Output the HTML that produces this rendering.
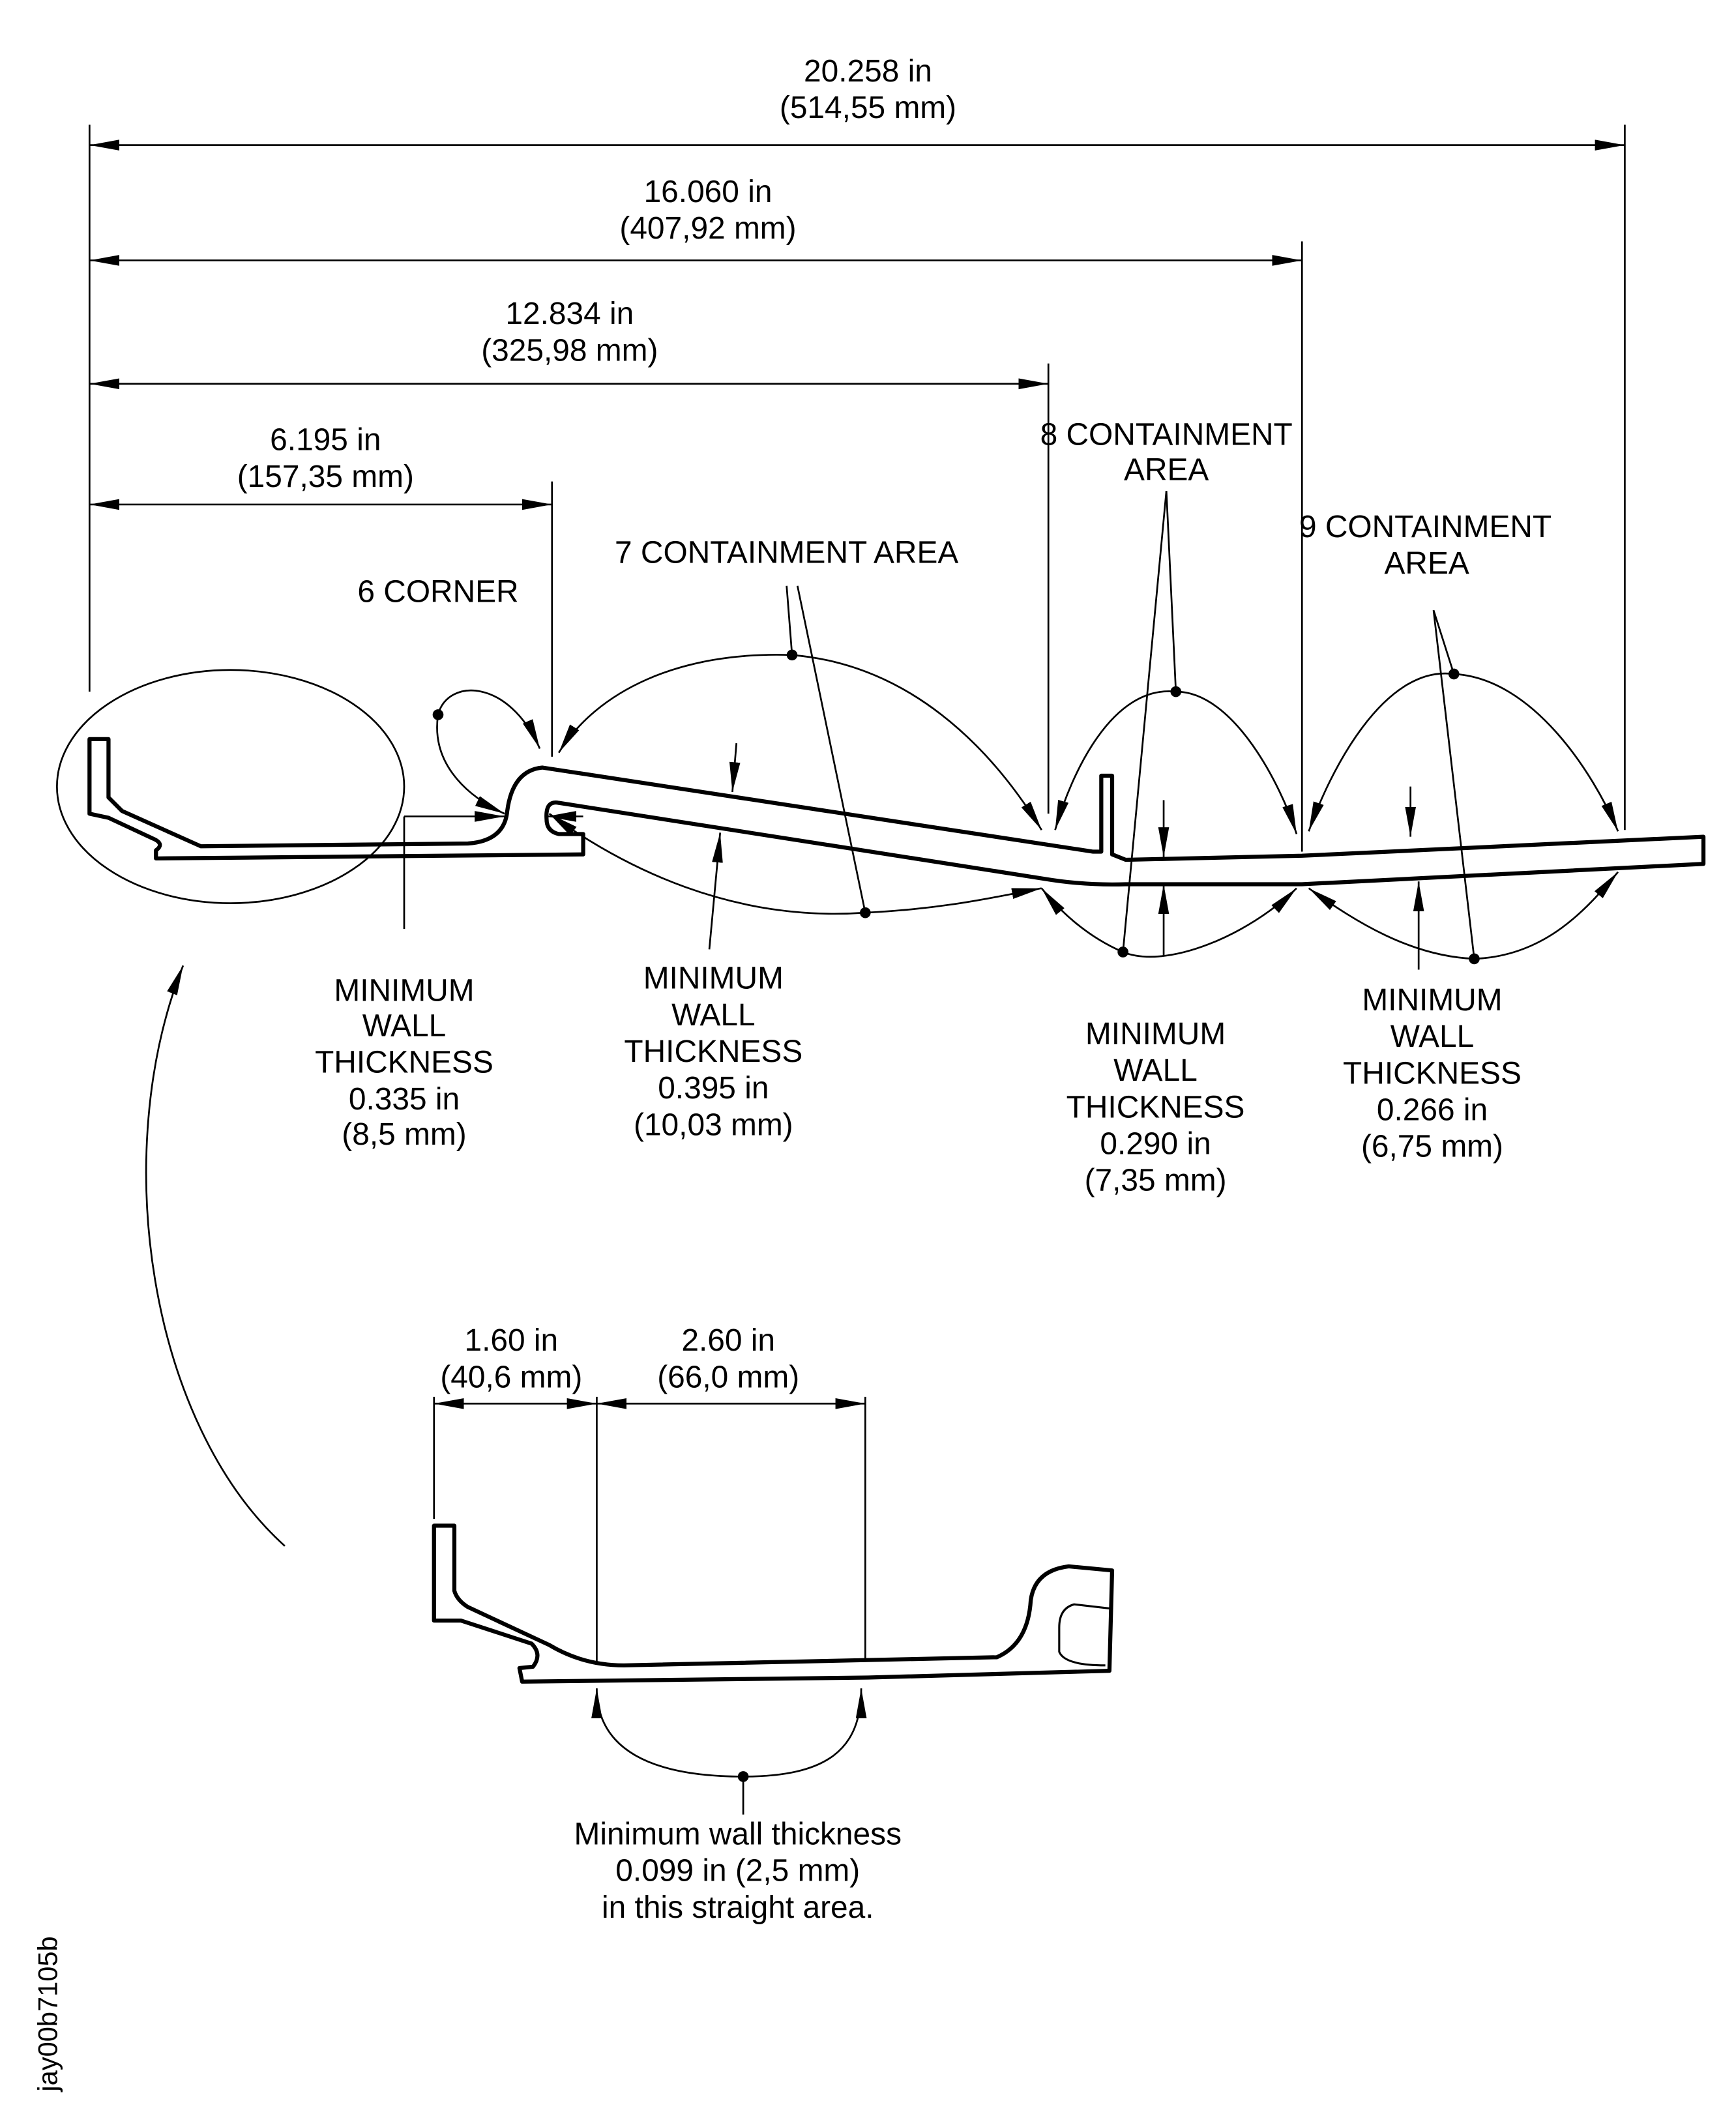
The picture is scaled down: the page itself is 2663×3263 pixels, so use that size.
<!DOCTYPE html>
<html><head><meta charset="utf-8"><style>
html,body{margin:0;padding:0;background:#fff;}
svg{display:block;}
text{font-family:"Liberation Sans",sans-serif;font-size:23px;fill:#000;text-anchor:middle;}
</style></head><body>
<svg width="2663" height="3263" viewBox="0 0 1280 1568.4" xmlns="http://www.w3.org/2000/svg">
<defs>
<marker id="a" markerUnits="userSpaceOnUse" markerWidth="24" markerHeight="10" refX="22" refY="4" orient="auto-start-reverse"><path d="M0,0 L22,4 L0,8 Z" fill="#000"/></marker>
</defs>
<g fill="none" stroke="#000" stroke-width="1.3">
<line x1="66" y1="92" x2="66" y2="510"/>
<line x1="1198" y1="92" x2="1198" y2="612"/>
<line x1="960" y1="178" x2="960" y2="628"/>
<line x1="773" y1="268" x2="773" y2="600"/>
<line x1="407" y1="355" x2="407" y2="558"/>
<line x1="66" y1="107" x2="1198" y2="107" marker-start="url(#a)" marker-end="url(#a)"/>
<line x1="66" y1="192" x2="960" y2="192" marker-start="url(#a)" marker-end="url(#a)"/>
<line x1="66" y1="283" x2="773" y2="283" marker-start="url(#a)" marker-end="url(#a)"/>
<line x1="66" y1="372" x2="407" y2="372" marker-start="url(#a)" marker-end="url(#a)"/>
<ellipse cx="170" cy="580" rx="128" ry="86"/>
<path d="M323,527 C330,500 375,500 398,552" marker-end="url(#a)"/>
<path d="M323,527 C318,560 340,585 372,600" marker-end="url(#a)"/>
<line x1="580" y1="432" x2="584" y2="483"/><line x1="588" y1="432" x2="638" y2="673"/>
<path d="M584,483 C500,480 440,510 412,555" marker-end="url(#a)"/>
<path d="M584,483 C670,490 730,550 768,612" marker-end="url(#a)"/>
<path d="M638,673 C540,680 460,640 405,600" marker-end="url(#a)"/>
<path d="M638,673 C700,670 740,660 768,655" marker-end="url(#a)"/>
<line x1="860" y1="362" x2="867" y2="510"/><line x1="860" y1="362" x2="828" y2="702"/>
<path d="M867,510 C820,505 790,570 778,612" marker-end="url(#a)"/>
<path d="M867,510 C910,510 945,580 956,615" marker-end="url(#a)"/>
<path d="M828,702 C800,690 780,670 768,655" marker-end="url(#a)"/>
<path d="M828,702 C860,715 920,690 956,655" marker-end="url(#a)"/>
<line x1="1057" y1="450" x2="1072" y2="497"/><line x1="1057" y1="450" x2="1087" y2="707"/>
<path d="M1072,497 C1020,490 980,570 965,613" marker-end="url(#a)"/>
<path d="M1072,497 C1130,500 1175,570 1193,613" marker-end="url(#a)"/>
<path d="M1087,707 C1040,705 1000,680 965,655" marker-end="url(#a)"/>
<path d="M1087,707 C1140,705 1170,670 1193,643" marker-end="url(#a)"/>
<line x1="298" y1="602" x2="298" y2="685"/>
<line x1="298" y1="602" x2="372" y2="602" marker-end="url(#a)"/>
<line x1="430" y1="602" x2="403" y2="602" marker-end="url(#a)"/>
<line x1="543" y1="548" x2="540" y2="584" marker-end="url(#a)"/>
<line x1="523" y1="700" x2="531" y2="614" marker-end="url(#a)"/>
<line x1="858" y1="590" x2="858" y2="632" marker-end="url(#a)"/>
<line x1="858" y1="705" x2="858" y2="652" marker-end="url(#a)"/>
<line x1="1040" y1="580" x2="1040" y2="617" marker-end="url(#a)"/>
<line x1="1046" y1="715" x2="1046" y2="650" marker-end="url(#a)"/>
<path d="M210,1140 C110,1050 80,850 135,712" marker-end="url(#a)"/>
<line x1="320" y1="1030" x2="320" y2="1120"/>
<line x1="440" y1="1030" x2="440" y2="1225"/>
<line x1="638" y1="1030" x2="638" y2="1225"/>
<line x1="320" y1="1035" x2="440" y2="1035" marker-start="url(#a)" marker-end="url(#a)"/>
<line x1="440" y1="1035" x2="638" y2="1035" marker-start="url(#a)" marker-end="url(#a)"/>
<path d="M548,1310 C480,1310 440,1290 440,1245" marker-end="url(#a)"/>
<path d="M548,1310 C610,1310 635,1290 635,1245" marker-end="url(#a)"/>
<line x1="548" y1="1310" x2="548" y2="1338"/>
</g>
<g fill="#000">
<circle cx="323" cy="527" r="4"/><circle cx="584" cy="483" r="4"/><circle cx="638" cy="673" r="4"/>
<circle cx="867" cy="510" r="4"/><circle cx="828" cy="702" r="4"/><circle cx="1072" cy="497" r="4"/>
<circle cx="1087" cy="707" r="4"/><circle cx="548" cy="1310" r="4"/>
</g>
<g fill="none" stroke="#000" stroke-width="3" stroke-linejoin="round">
<path d="M66,600 L66,545 L80,545 L80,588 L90,598 L148,624 L345,622 Q372,620 374,598 Q378,568 400,566 L806,628 L812,628 L812,572 L820,572 L820,630 L830,634 L960,631 L1256,617 L1256,637 L960,652 L858,652 L830,652 Q800,653 770,648 L412,592 Q402,590 403,604 Q403,613 412,615 L430,615 L430,630 L115,633 L115,627 Q122,622 112,618 L80,603 Z"/>
<path d="M320,1195 L320,1125 L335,1125 L335,1173 Q337,1180 345,1185 L405,1213 Q430,1228 460,1228 L735,1222 Q758,1212 760,1180 Q763,1158 788,1155 L820,1158 L818,1232 L640,1237 L385,1240 L383,1230 L393,1229 Q400,1220 392,1212 L340,1195 Z"/>
</g>
<path d="M818,1186 L792,1183 Q781,1186 781,1200 L781,1218 Q785,1228 815,1228" fill="none" stroke="#000" stroke-width="1.5"/>
<text x="640" y="60">20.258 in</text><text x="640" y="87">(514,55 mm)</text>
<text x="522" y="149">16.060 in</text><text x="522" y="176">(407,92 mm)</text>
<text x="420" y="239">12.834 in</text><text x="420" y="266">(325,98 mm)</text>
<text x="240" y="332">6.195 in</text><text x="240" y="359">(157,35 mm)</text>
<text x="860" y="328">8 CONTAINMENT</text><text x="860" y="354">AREA</text>
<text x="1051" y="396">9 CONTAINMENT</text><text x="1052" y="423">AREA</text>
<text x="580" y="415">7 CONTAINMENT AREA</text>
<text x="323" y="444">6 CORNER</text>
<g>
<text x="298" y="738">MINIMUM</text><text x="298" y="764">WALL</text><text x="298" y="791">THICKNESS</text><text x="298" y="818">0.335 in</text><text x="298" y="844">(8,5 mm)</text>
<text x="526" y="729">MINIMUM</text><text x="526" y="756">WALL</text><text x="526" y="783">THICKNESS</text><text x="526" y="810">0.395 in</text><text x="526" y="837">(10,03 mm)</text>
<text x="852" y="770">MINIMUM</text><text x="852" y="797">WALL</text><text x="852" y="824">THICKNESS</text><text x="852" y="851">0.290 in</text><text x="852" y="878">(7,35 mm)</text>
<text x="1056" y="745">MINIMUM</text><text x="1056" y="772">WALL</text><text x="1056" y="799">THICKNESS</text><text x="1056" y="826">0.266 in</text><text x="1056" y="853">(6,75 mm)</text>
</g>
<text x="377" y="996">1.60 in</text><text x="377" y="1023">(40,6 mm)</text>
<text x="537" y="996">2.60 in</text><text x="537" y="1023">(66,0 mm)</text>
<text x="544" y="1360">Minimum wall thickness</text>
<text x="544" y="1387">0.099 in (2,5 mm)</text>
<text x="544" y="1414">in this straight area.</text>
<text x="0" y="0" transform="translate(42,1485) rotate(-90)" style="font-size:20px">jay00b7105b</text>
</svg>
</body></html>
